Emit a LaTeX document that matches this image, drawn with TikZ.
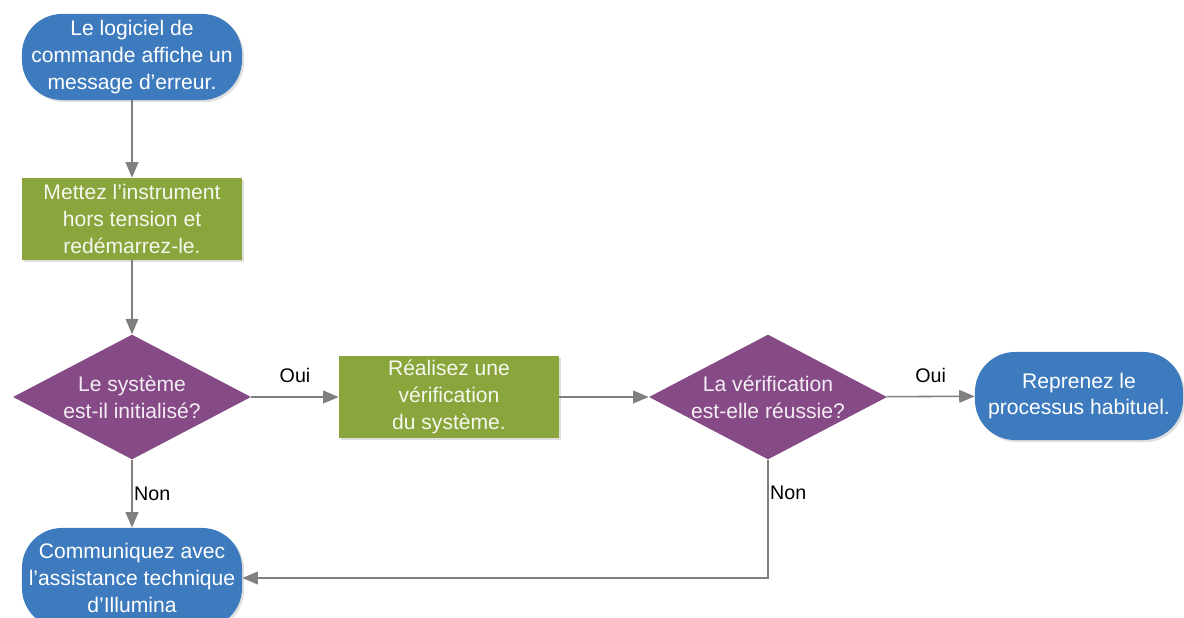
\documentclass[tikz,border=0pt]{standalone}
\usepackage{fontspec}
\setmainfont{Liberation Sans}
\usetikzlibrary{shapes.geometric,arrows.meta,shadows}
\definecolor{termblue}{RGB}{62,123,190}
\definecolor{stepgreen}{RGB}{137,165,60}
\definecolor{askpurple}{RGB}{134,74,135}
\definecolor{flowgray}{RGB}{128,128,128}

\begin{document}
\begin{tikzpicture}[x=0.025cm,y=-0.025cm,
    boxfont/.style={font=\fontsize{15}{19}\selectfont},
    term/.style={boxfont, fill=termblue, text=white, rounded corners=1cm,
        minimum width=5.5cm, minimum height=2.15cm, inner sep=1pt, align=center,
        drop shadow={opacity=0.25, shadow xshift=1.5pt, shadow yshift=-1.5pt}},
    stepbox/.style={boxfont, fill=stepgreen, text=white!92!stepgreen,
        minimum width=5.5cm, minimum height=2.05cm, inner sep=1pt, align=center,
        drop shadow={opacity=0.25, shadow xshift=1.5pt, shadow yshift=-1.5pt}},
    ask/.style={boxfont, diamond, fill=askpurple, text=white!90!askpurple,
        minimum width=5.95cm, minimum height=3.12cm, inner sep=0pt, aspect=1.9,
        align=center},
    flow/.style={draw=flowgray, line width=1.1pt, -{Triangle[length=11pt,width=9pt]}},
    answer/.style={font=\fontsize{14}{16}\selectfont}]
    \useasboundingbox (0,0) rectangle (1184,618);

    % Nodes
    \node[term] (start) at (132,57) {Le logiciel de\\commande affiche un\\message d’erreur.};
    \node[stepbox] (restart) at (132,219) {Mettez l’instrument\\hors tension et\\redémarrez-le.};
    \node[ask] (init) at (132,397) {Le système\\est-il initialisé?};
    \node[stepbox] (check) at (449,397) {Réalisez une\\vérification\\du système.};
    \node[ask] (ok) at (768,397) {La vérification\\est-elle réussie?};
    \node[term, minimum width=5.2cm, minimum height=2.2cm] (resume) at (1079,396) {Reprenez le\\processus habituel.};
    \node[term, minimum height=2.5cm] (support) at (132,578) {Communiquez avec\\l’assistance technique\\d’Illumina};

    % Connectors
    \draw[flow] (start) -- (restart);
    \draw[flow] (restart) -- (init);
    \draw[flow] (init) -- node[answer, above, yshift=6pt] (oui1) {Oui} (check);
    \draw[flow] (check) -- (ok);
    \draw[flow] (ok) -- node[answer, above, yshift=6pt] (oui2) {Oui} (resume);
    \draw[flow] (init) -- node[answer, right, inner sep=1pt] (non1) {Non} (support);
    \draw[flow] (ok.south) |- node[answer, right, pos=0.14, inner sep=1pt] (non2) {Non} (support.east);
\end{tikzpicture}
\end{document}
